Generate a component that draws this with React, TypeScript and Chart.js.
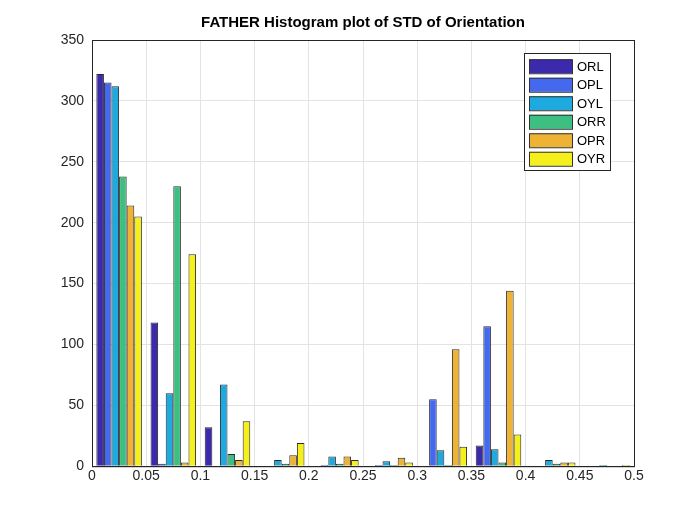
import { useEffect, useRef } from "react"
import { Chart, registerables } from "chart.js"

Chart.register(...registerables)

const bins = ["0-0.05", "0.05-0.1", "0.1-0.15", "0.15-0.2", "0.2-0.25", "0.25-0.3", "0.3-0.35", "0.35-0.4", "0.4-0.45", "0.45-0.5"]
const seriesNames = ["ORL", "OPL", "OYL", "ORR", "OPR", "OYR"]
const colors = ["#3c2aae", "#4569ee", "#1ea9df", "#3cbf80", "#eeb234", "#f5f01c"]
const ORL = [322, 118, 32, 0, 0, 0, 0, 17, 0, 0]
const OPL = [315, 2, 0, 0, 1, 1, 55, 115, 0, 0]
const OYL = [312, 60, 67, 5, 8, 4, 13, 14, 5, 1]
const ORR = [238, 230, 10, 2, 2, 1, 1, 3, 2, 0]
const OPR = [214, 3, 5, 9, 8, 7, 96, 144, 3, 0]
const OYR = [205, 174, 37, 19, 5, 3, 16, 26, 3, 1]
const xTicks = [0, 0.05, 0.1, 0.15, 0.2, 0.25, 0.3, 0.35, 0.4, 0.45, 0.5]
const title = "FATHER Histogram plot of STD of Orientation"

const frame = {
  id: "frame",
  afterDraw(chart: any) {
    const { ctx, chartArea: a } = chart
    ctx.save()
    ctx.strokeStyle = "#262626"
    ctx.lineWidth = 1
    ctx.strokeRect(a.left + 0.5, a.top + 0.5, a.right - a.left, a.bottom - a.top)
    ctx.fillStyle = "#000"
    ctx.font = "bold 15px Arial, 'Liberation Sans'"
    ctx.textAlign = "center"
    ctx.textBaseline = "middle"
    ctx.fillText(title, (a.left + a.right) / 2, 23)
    ctx.textAlign = "left"
    // legend
    const x = 524, y = 53, w = 86, rowH = 18.5
    ctx.fillStyle = "#fff"
    ctx.fillRect(x, y, w, rowH * 6 + 6)
    ctx.strokeRect(x + 0.5, y + 0.5, w, rowH * 6 + 6)
    ctx.font = "13px Arial, 'Liberation Sans'"
    chart.data.datasets.forEach((d: any, i: number) => {
      const cy = y + 4 + rowH * i + rowH / 2
      ctx.fillStyle = d.backgroundColor
      ctx.fillRect(x + 5, cy - 7, 43, 14)
      ctx.strokeStyle = "#333"
      ctx.strokeRect(x + 5.5, cy - 6.5, 43, 14)
      ctx.fillStyle = "#000"
      ctx.fillText(d.label, x + 53, cy + 1)
    })
    ctx.restore()
  },
}

export default function App() {
  const ref = useRef<HTMLCanvasElement>(null)
  useEffect(() => {
    document.body.style.margin = "0"
    if (!ref.current) return
    const all = [ORL, OPL, OYL, ORR, OPR, OYR]
    const chart = new Chart(ref.current, {
      type: "bar",
      data: {
        labels: bins,
        datasets: all.map((v, i) => ({
          label: seriesNames[i],
          data: v,
          backgroundColor: colors[i],
          borderColor: "#2a2a2a",
          borderWidth: 1,
          categoryPercentage: 0.84,
          barPercentage: 1,
        })),
      },
      options: {
        responsive: false,
        animation: false,
        layout: { padding: { left: 0, right: 66, top: 40, bottom: 38 } },
        plugins: {
          legend: { display: false },
          tooltip: { enabled: false },
        },
        scales: {
          x: { display: false, offset: true, grid: { display: false } },
          x2: {
            type: "linear",
            position: "bottom",
            offset: false,
            min: 0,
            max: 0.5,
            afterBuildTicks: (s: any) => { s.ticks = xTicks.map((v) => ({ value: v })) },
            ticks: { color: "#262626", font: { size: 14, family: "Arial, 'Liberation Sans'" }, padding: 2, maxRotation: 0,
              callback: (v: any) => String(v) },
            grid: { color: "#e3e3e3", drawTicks: false, offset: false },
            border: { color: "#262626" },
          },
          y: {
            min: 0,
            max: 350,
            ticks: { stepSize: 50, color: "#262626", font: { size: 14, family: "Arial, 'Liberation Sans'" }, padding: 8 },
            grid: { color: "#e3e3e3", drawTicks: false },
            border: { color: "#262626" },
            afterFit: (s: any) => { s.width = 92 },
          },
        },
      },
      plugins: [frame],
    })
    return () => chart.destroy()
  }, [])
  return <canvas ref={ref} width={700} height={525} style={{ display: "block" }} />
}
